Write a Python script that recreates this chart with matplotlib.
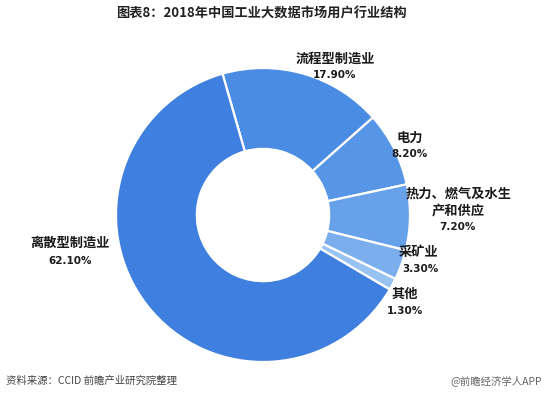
import numpy as np
import matplotlib
matplotlib.use("Agg")
import matplotlib.pyplot as plt

plt.rcParams['font.family'] = ['Noto Sans CJK SC', 'DejaVu Sans']

# 数据（顺时针，从左上方开始）
industries = ['流程型制造业', '电力', '热力、燃气及水生\n产和供应', '采矿业', '其他', '离散型制造业']
shares = [17.90, 8.20, 7.20, 3.30, 1.30, 62.10]
colors = ['#4a8ce3', '#5796e6', '#67a1ea', '#7aaeed', '#98c2f1', '#3f7fdf']

# 标签位置（坐标轴数据坐标）：名称中心、百分比中心
name_pos = [(0.49, 1.061), (1.0, 0.524), (1.327, 0.088), (1.061, -0.252), (0.966, -0.537), (-1.313, -0.19)]
pct_pos = [(0.49, 0.952), (1.0, 0.415), (1.32, -0.082), (1.068, -0.367), (0.966, -0.653), (-1.313, -0.313)]

fig = plt.figure(figsize=(5.47, 3.94), dpi=100)
r_px = 147
cx, cy = 263, 215
ax = fig.add_axes([(cx - r_px) / 547, 1 - (cy + r_px) / 394, 2 * r_px / 547, 2 * r_px / 394])

ax.pie(shares, colors=colors, startangle=106, counterclock=False, radius=1.0,
       wedgeprops=dict(width=0.55, edgecolor='white', linewidth=1.6))
ax.set_xlim(-1, 1)
ax.set_ylim(-1, 1)
ax.set_aspect('equal')
ax.axis('off')

for name, val, (x, y), (px, py) in zip(industries, shares, name_pos, pct_pos):
    ax.text(x, y, name, ha='center', va='center', fontsize=9.5, fontweight='bold',
            color='#1a1a1a', linespacing=1.2, clip_on=False)
    ax.text(px, py, f'{val:.2f}%', ha='center', va='center', fontsize=7.5,
            fontweight='bold', color='#1a1a1a', family='DejaVu Sans', clip_on=False)

fig.text(261 / 547, 1 - 14 / 394, '图表8：2018年中国工业大数据市场用户行业结构',
         ha='center', va='center', fontsize=9.5, fontweight='bold', color='#222222')
fig.text(6 / 547, 1 - 381 / 394, '资料来源：CCID 前瞻产业研究院整理',
         ha='left', va='center', fontsize=7.5, color='#444444')
fig.text(542 / 547, 1 - 381 / 394, '@前瞻经济学人APP',
         ha='right', va='center', fontsize=7.5, color='#666666')

fig.savefig('out.png', dpi=100)
